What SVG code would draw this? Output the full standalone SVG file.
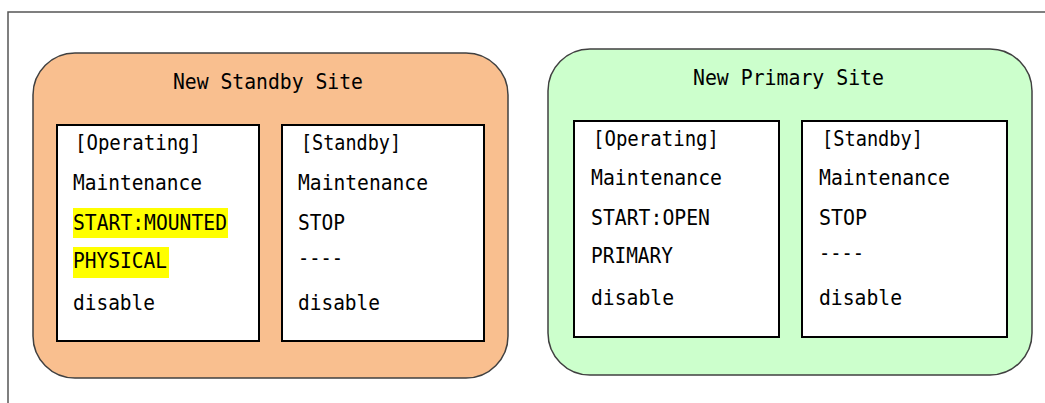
<svg xmlns="http://www.w3.org/2000/svg" width="1045" height="403" viewBox="0 0 1045 403">
<style>
.t{font-family:"DejaVu Sans Mono","Liberation Mono",monospace;font-size:21px;fill:#000}
.site{stroke:#404040;stroke-width:1.5}
.box{fill:#fff;stroke:#000;stroke-width:2}
.hl{fill:#ffff00}
</style>
<rect width="1045" height="403" fill="#fff"/>
<path d="M8,403 V12 H1045" fill="none" stroke="#555" stroke-width="1.5"/>
<g id="standby-site">
<rect class="site" x="33" y="53" width="475" height="325" rx="42" fill="#f9bf8f"/>
<text class="t" x="173" y="89" textLength="190" lengthAdjust="spacingAndGlyphs">New Standby Site</text>
</g>
<g id="standby-operating">
<rect class="box" x="57" y="125" width="202" height="216"/>
<rect class="hl" x="73" y="208" width="155" height="30"/>
<rect class="hl" x="73" y="247" width="96" height="31"/>
<text class="t" x="75" y="150" textLength="126" lengthAdjust="spacingAndGlyphs">[Operating]</text>
<text class="t" x="73" y="190" textLength="129" lengthAdjust="spacingAndGlyphs">Maintenance</text>
<text class="t" x="73" y="230" textLength="154" lengthAdjust="spacingAndGlyphs">START:MOUNTED</text>
<text class="t" x="73" y="268" textLength="94" lengthAdjust="spacingAndGlyphs">PHYSICAL</text>
<text class="t" x="73" y="310" textLength="82" lengthAdjust="spacingAndGlyphs">disable</text>
</g>
<g id="standby-standby">
<rect class="box" x="282" y="125" width="202" height="216"/>
<text class="t" x="301" y="150" textLength="100" lengthAdjust="spacingAndGlyphs">[Standby]</text>
<text class="t" x="298" y="190" textLength="130" lengthAdjust="spacingAndGlyphs">Maintenance</text>
<text class="t" x="298" y="230" textLength="47" lengthAdjust="spacingAndGlyphs">STOP</text>
<text class="t" x="298" y="265" textLength="45" lengthAdjust="spacingAndGlyphs">----</text>
<text class="t" x="298" y="310" textLength="82" lengthAdjust="spacingAndGlyphs">disable</text>
</g>
<g id="primary-site">
<rect class="site" x="548" y="49" width="484" height="326" rx="42" fill="#ccffcc"/>
<text class="t" x="693" y="85" textLength="191" lengthAdjust="spacingAndGlyphs">New Primary Site</text>
</g>
<g id="primary-operating">
<rect class="box" x="574" y="121" width="205" height="216"/>
<text class="t" x="593" y="146" textLength="126" lengthAdjust="spacingAndGlyphs">[Operating]</text>
<text class="t" x="591" y="185" textLength="131" lengthAdjust="spacingAndGlyphs">Maintenance</text>
<text class="t" x="591" y="225" textLength="119" lengthAdjust="spacingAndGlyphs">START:OPEN</text>
<text class="t" x="591" y="263" textLength="82" lengthAdjust="spacingAndGlyphs">PRIMARY</text>
<text class="t" x="591" y="305" textLength="83" lengthAdjust="spacingAndGlyphs">disable</text>
</g>
<g id="primary-standby">
<rect class="box" x="802" y="121" width="205" height="216"/>
<text class="t" x="822" y="146" textLength="101" lengthAdjust="spacingAndGlyphs">[Standby]</text>
<text class="t" x="819" y="185" textLength="131" lengthAdjust="spacingAndGlyphs">Maintenance</text>
<text class="t" x="819" y="225" textLength="48" lengthAdjust="spacingAndGlyphs">STOP</text>
<text class="t" x="819" y="260" textLength="45" lengthAdjust="spacingAndGlyphs">----</text>
<text class="t" x="819" y="305" textLength="83" lengthAdjust="spacingAndGlyphs">disable</text>
</g>
<g id="connectors"/>
</svg>
